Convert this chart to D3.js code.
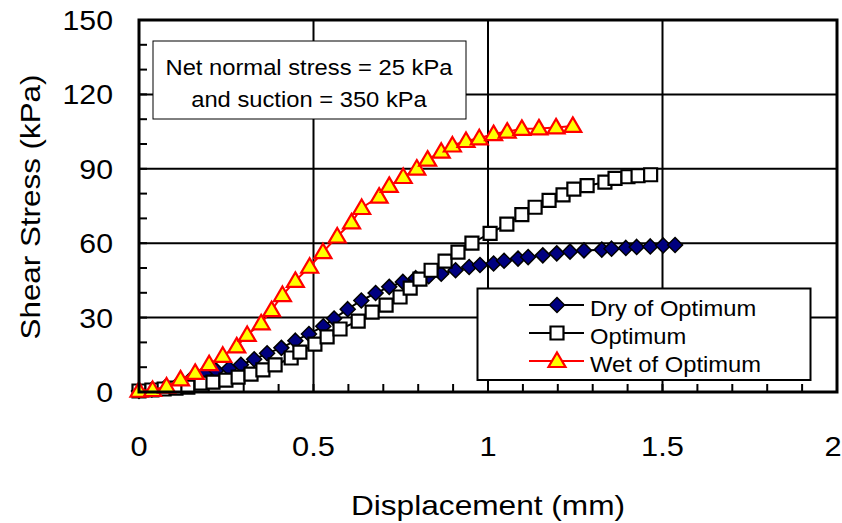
<!DOCTYPE html>
<html>
<head>
<meta charset="utf-8">
<script src="https://cdn.jsdelivr.net/npm/d3@7"></script>
<style>
  html, body { margin: 0; padding: 0; background: #fff; }
  svg { display: block; font-family: "Liberation Sans", Arial, sans-serif; }
</style>
</head>
<body>
<svg id="chart" width="842" height="523"></svg>
<script>
// ---- data ----
const dryX = [0,0.037,0.074,0.112,0.149,0.189,0.221,0.258,0.292,0.330,0.367,0.408,0.448,0.487,0.528,0.559,0.598,0.637,0.678,0.717,0.756,0.793,0.830,0.866,0.907,0.946,0.977,1.016,1.046,1.086,1.115,1.157,1.197,1.235,1.275,1.326,1.354,1.395,1.426,1.465,1.502,1.536];
const dryY = [0.4,1.0,1.8,3.2,5.2,7.5,8.7,9.5,11.0,13.2,15.6,17.8,20.7,23.4,26.5,29.6,33.4,36.9,39.9,42.4,44.4,45.9,46.7,47.7,49.1,50.4,51.2,51.8,52.9,53.8,54.4,55.1,55.9,56.6,57.1,57.4,57.8,58.1,58.5,58.7,59.1,59.3];

const optX = [0,0.037,0.072,0.106,0.140,0.178,0.212,0.249,0.284,0.321,0.355,0.390,0.436,0.461,0.504,0.539,0.576,0.628,0.668,0.708,0.748,0.777,0.805,0.837,0.877,0.914,0.954,1.006,1.054,1.097,1.135,1.175,1.215,1.246,1.284,1.335,1.364,1.401,1.430,1.466];
const optY = [0.4,0.8,1.2,1.6,2.0,3.6,4.0,4.8,6.0,7.2,8.9,10.9,13.7,16.1,19.3,22.2,25.4,28.6,32.2,35.0,38.3,41.9,45.5,49.1,52.8,56.4,60.0,64.0,67.7,71.5,74.5,77.3,79.5,81.8,83.2,84.6,86.1,86.8,87.2,87.6];

const wetX = [0,0.039,0.079,0.119,0.161,0.201,0.240,0.280,0.310,0.350,0.380,0.411,0.448,0.489,0.527,0.568,0.609,0.638,0.688,0.717,0.757,0.796,0.827,0.866,0.898,0.937,0.975,1.016,1.055,1.097,1.146,1.195,1.243];
const wetY = [0.5,0.8,2.2,5.1,7.7,11.2,14.6,18.4,23.0,27.7,33.0,39.1,44.8,50.5,56.4,62.7,68.4,74.2,78.8,83.1,86.7,90.1,93.7,96.9,99.4,101.2,102.3,104.0,105.0,106.1,106.3,106.7,107.3];

const seriesNames = ["Dry of Optimum", "Optimum", "Wet of Optimum"];
const xTicks = [0, 0.5, 1, 1.5, 2];
const yTicks = [0, 30, 60, 90, 120, 150];
const xTickLabels = ["0", "0.5", "1", "1.5", "2"];
const yTickLabels = ["0", "30", "60", "90", "120", "150"];
const annotationLines = ["Net normal stress = 25 kPa", "and suction = 350 kPa"];
const xTitle = "Displacement (mm)";
const yTitle = "Shear Stress (kPa)";

// ---- layout ----
const L = 139, R = 837, T = 20, B = 392;
const W = 842;
const svg = d3.select("#chart");
const x = d3.scaleLinear().domain([0, 2]).range([L, R]);
const y = d3.scaleLinear().domain([0, 150]).range([B, T]);

// helper: horizontally stretched text
function stext(parent, tx, ty, str, size, sx, anchor, rot) {
  const t = parent.append("text")
    .attr("transform", `translate(${tx},${ty})${rot ? ` rotate(${rot})` : ""} scale(${sx},1)`)
    .attr("font-size", size)
    .attr("text-anchor", anchor || "start")
    .text(str);
  return t;
}

// gridlines
const g = svg.append("g");
g.selectAll(".gx").data(xTicks.slice(1, -1)).enter().append("line")
  .attr("x1", d => x(d)).attr("x2", d => x(d)).attr("y1", T).attr("y2", B)
  .attr("stroke", "#000").attr("stroke-width", 2);
g.selectAll(".gy").data(yTicks.slice(1, -1)).enter().append("line")
  .attr("x1", L).attr("x2", R).attr("y1", d => y(d)).attr("y2", d => y(d))
  .attr("stroke", "#000").attr("stroke-width", 2);

// minor ticks (inward)
const xMinor = d3.range(0, 21).map(i => i / 10);
g.selectAll(".tx").data(xMinor).enter().append("line")
  .attr("x1", d => x(d)).attr("x2", d => x(d)).attr("y1", B).attr("y2", B - 8)
  .attr("stroke", "#000").attr("stroke-width", 2);
const yMinor = d3.range(0, 16).map(i => i * 10);
g.selectAll(".ty").data(yMinor).enter().append("line")
  .attr("x1", L).attr("x2", L + 8).attr("y1", d => y(d)).attr("y2", d => y(d))
  .attr("stroke", "#000").attr("stroke-width", 2);

// series
const diamond = "M0,-7.5L7.5,0L0,7.5L-7.5,0Z";
const square = "M-6.5,-6.5H6.5V6.5H-6.5Z";
const triangle = "M0,-8.5L8.5,6L-8.5,6Z";
const series = [
  {name: seriesNames[0], xs: dryX, ys: dryY, line: "#000", path: diamond, fill: "#000080", stroke: "#000", sw: 1.5},
  {name: seriesNames[1], xs: optX, ys: optY, line: "#000", path: square, fill: "#fff", stroke: "#000", sw: 2.2},
  {name: seriesNames[2], xs: wetX, ys: wetY, line: "#ff0000", path: triangle, fill: "#ffff00", stroke: "#ff0000", sw: 2.2}
];
const lineGen = d3.line().x(d => x(d[0])).y(d => y(d[1]));
series.forEach(s => {
  const pts = s.xs.map((v, i) => [v, s.ys[i]]);
  svg.append("path").datum(pts).attr("d", lineGen)
    .attr("fill", "none").attr("stroke", s.line).attr("stroke-width", 2);
  svg.append("g").selectAll("path").data(pts).enter().append("path")
    .attr("d", s.path)
    .attr("transform", d => `translate(${x(d[0])},${y(d[1])})`)
    .attr("fill", s.fill).attr("stroke", s.stroke).attr("stroke-width", s.sw)
    .attr("stroke-linejoin", "miter");
});

// frame
svg.append("rect").attr("x", L).attr("y", T).attr("width", R - L).attr("height", B - T)
  .attr("fill", "none").attr("stroke", "#000").attr("stroke-width", 3);

// tick labels
const xl = svg.append("g");
xTicks.forEach((d, i) => {
  const px = Math.min(x(d), W - 9);
  stext(xl, px, 456, xTickLabels[i], 28, 1.1, "middle");
});
const yl = svg.append("g");
yTicks.forEach((d, i) => {
  stext(yl, 113, y(d) + 10, yTickLabels[i], 28, 1.08, "end");
});

// axis titles
stext(svg, 488, 515, xTitle, 28, 1.13, "middle");
stext(svg, 40, 207, yTitle, 28, 1.12, "middle", -90);

// annotation box
svg.append("rect").attr("x", 153).attr("y", 41).attr("width", 313).attr("height", 78)
  .attr("fill", "#fff").attr("stroke", "#000").attr("stroke-width", 1);
annotationLines.forEach((t, i) => {
  stext(svg, 309, 75 + i * 32, t, 22, 1.08, "middle");
});

// legend
svg.append("rect").attr("x", 477.5).attr("y", 288.5).attr("width", 333).attr("height", 91.5)
  .attr("fill", "#fff").attr("stroke", "#000").attr("stroke-width", 2);
const legRows = [305, 333, 361];
series.forEach((s, i) => {
  const ly = legRows[i];
  svg.append("line").attr("x1", 529).attr("x2", 584).attr("y1", ly).attr("y2", ly)
    .attr("stroke", s.line).attr("stroke-width", 2);
  svg.append("path").attr("d", s.path).attr("transform", `translate(557,${ly})`)
    .attr("fill", s.fill).attr("stroke", s.stroke).attr("stroke-width", s.sw);
  stext(svg, 590, ly + 11, s.name, 22, 1.08, "start");
});
</script>
</body>
</html>
